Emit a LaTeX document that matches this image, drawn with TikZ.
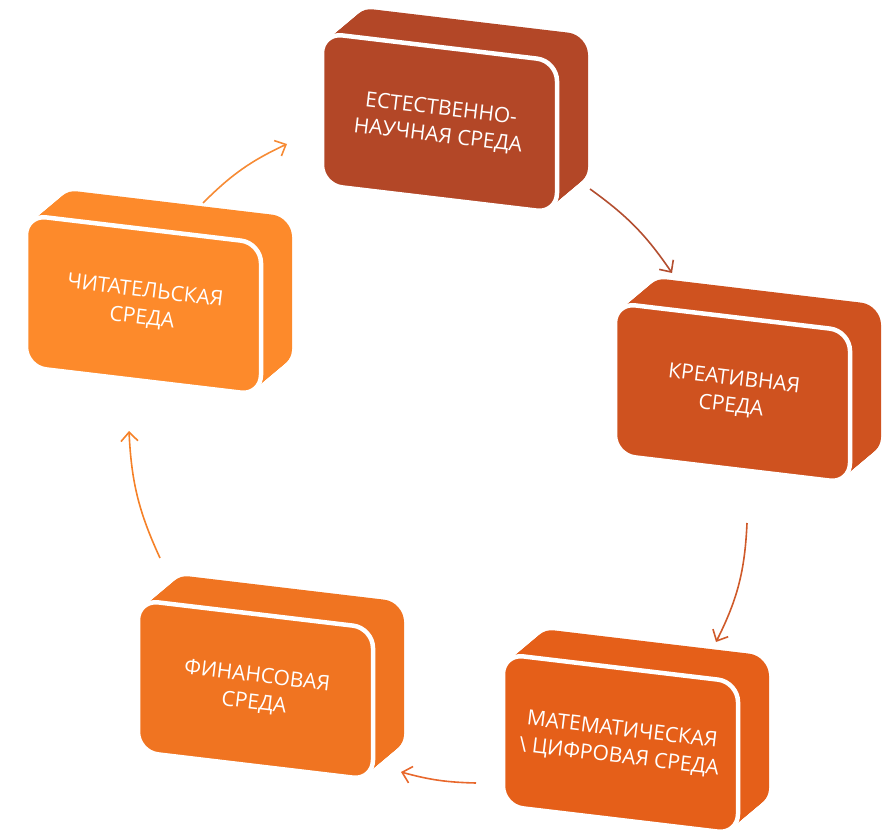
\documentclass[tikz,border=0pt]{standalone}
\usepackage{fontspec}
\setmainfont{Open Sans}
\usetikzlibrary{arrows.meta}
\definecolor{cA}{HTML}{B34727}
\definecolor{cB}{HTML}{CF521F}
\definecolor{cC}{HTML}{E55F19}
\definecolor{cD}{HTML}{F07421}
\definecolor{cE}{HTML}{FD8A2B}
\definecolor{aE}{HTML}{F68B35}
\definecolor{aA}{HTML}{B34E30}
\definecolor{aB}{HTML}{CF5A2A}
\definecolor{aC}{HTML}{E8682C}
\definecolor{aD}{HTML}{F58128}
\newcommand{\facepath}[2]{(#1,#2) -- ++(235,28) -- ++(0,152) -- ++(-235,-28) -- cycle}
\tikzset{
  lbl/.style={text=white, align=center, font=\fontsize{21}{27}\selectfont, rotate=-6.8, inner sep=0pt},
  facestyle/.style={draw=white, line width=4.5pt, rounded corners=20pt},
  arr/.style={line width=1.6pt, -{Straight Barb[length=9pt,width=17pt]}},
}
\newcommand{\blockbox}[5]{%
  \foreach \t in {0,0.04,...,1.001} {
    \fill[#4, rounded corners=20pt, shift={({31*\t},{-26*\t})}] \facepath{#2}{#3};
  }
  \draw[facestyle, fill=#4] \facepath{#2}{#3};
  \node[lbl] (#1) at ({#2+117.5},{#3+90}) {#5};
}
\begin{document}
\begin{tikzpicture}[x=1pt,y=-1pt]
\useasboundingbox (0,0) rectangle (890,837);
\blockbox{nat}{322}{33}{cA}{ЕСТЕСТВЕННО-\\НАУЧНАЯ СРЕДА}
\blockbox{kre}{615}{303}{cB}{КРЕАТИВНАЯ\\СРЕДА}
\blockbox{mat}{503}{654}{cC}{МАТЕМАТИЧЕСКАЯ\\\textbackslash\ ЦИФРОВАЯ СРЕДА}
\blockbox{fin}{138}{600}{cD}{ФИНАНСОВАЯ\\СРЕДА}
\blockbox{cht}{26}{215}{cE}{ЧИТАТЕЛЬСКАЯ\\СРЕДА}
\coordinate (a1s) at (203,203); \coordinate (a1e) at (287,144);
\coordinate (a2s) at (590,189); \coordinate (a2e) at (672,273);
\coordinate (a3s) at (747,523); \coordinate (a3e) at (716,642);
\coordinate (a4s) at (476,783); \coordinate (a4e) at (401,772);
\coordinate (a5s) at (160,558); \coordinate (a5e) at (129,431);
\draw[arr, aE] (a1s) to[bend left=10] (a1e);
\draw[arr, aA] (a2s) to[bend left=10] (a2e);
\draw[arr, aB] (a3s) to[bend left=12] (a3e);
\draw[arr, aC] (a4s) to[bend left=7] (a4e);
\draw[arr, aD] (a5s) to[bend left=11] (a5e);
\end{tikzpicture}
\end{document}
